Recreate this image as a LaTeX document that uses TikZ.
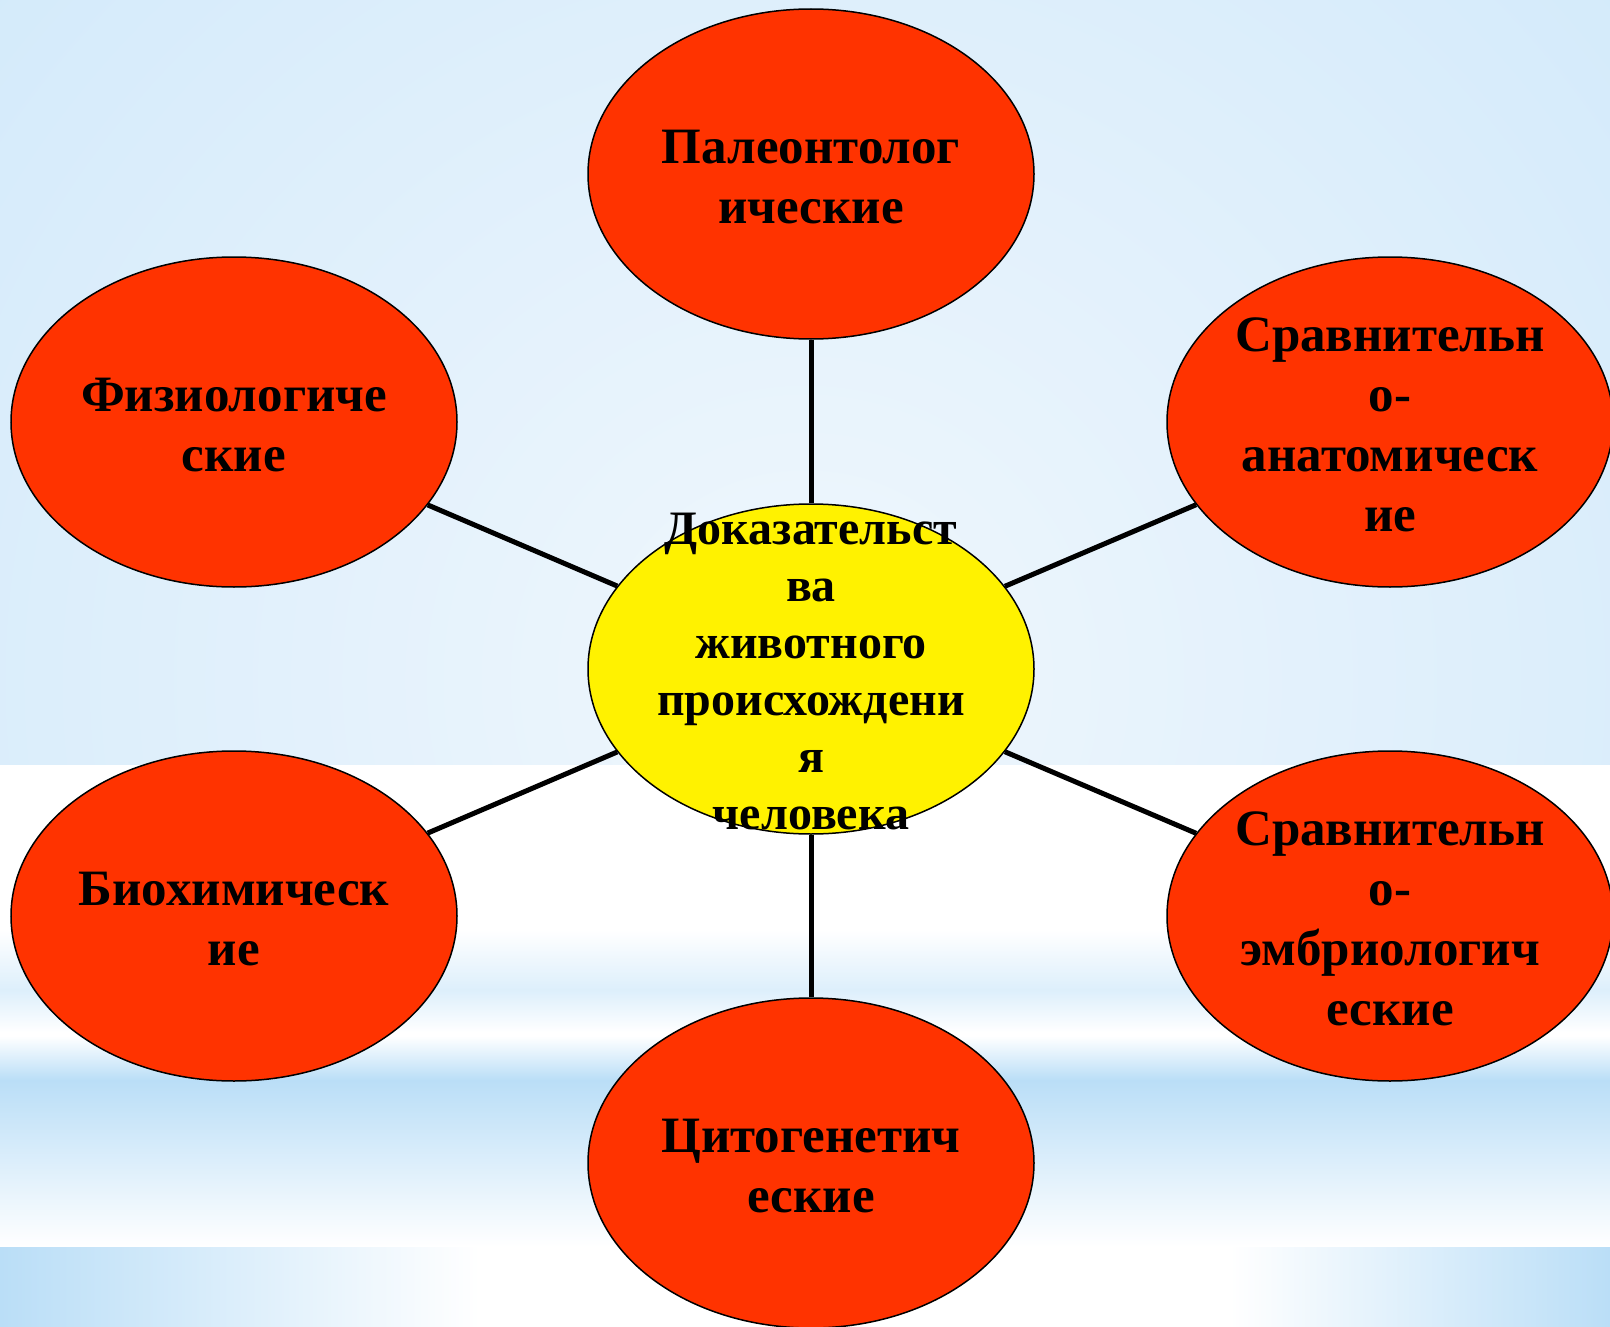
\documentclass[tikz,border=0pt]{standalone}
\usepackage{fontspec}
\setmainfont{Liberation Serif}
\usetikzlibrary{shapes.geometric}

\definecolor{evidred}{RGB}{255,51,0}
\definecolor{bgblue}{RGB}{198,228,249}
\definecolor{bglight}{RGB}{240,247,253}
\definecolor{bgstreak}{RGB}{186,222,247}

\begin{document}
\begin{tikzpicture}[x=1pt,y=-1pt]

\tikzset{evid/.style={ellipse,draw=black,line width=1.5pt,fill=evidred,minimum width=446pt,minimum height=330pt,inner sep=0pt}}
\tikzset{txt/.style={align=center,font=\fontsize{51}{60}\selectfont\bfseries,yshift=-3pt}}
\tikzset{link/.style={line width=5pt}}

\useasboundingbox (0,0) rectangle (1610,1327);

% background
\begin{scope}
\clip (0,0) rectangle (1610,765);
\shade[inner color=bglight,outer color=bgblue] (-795,-920) rectangle (2405,2280);
\end{scope}
\fill[white] (0,765) rectangle (1610,1247);
\shade[top color=white,bottom color=bgblue!60] (0,930) rectangle (1610,990);
\shade[top color=bgblue!60,bottom color=white] (0,990) rectangle (1610,1032);
\shade[top color=white,bottom color=bgstreak] (0,1036) rectangle (1610,1080);
\shade[top color=bgstreak,bottom color=white] (0,1080) rectangle (1610,1247);
\shade[left color=bgstreak,right color=white] (0,1247) rectangle (480,1327);
\shade[left color=white,right color=bgstreak] (1230,1247) rectangle (1610,1327);

% the ellipses
\node(pal)[evid] at (811,174){};
\node(fiz)[evid] at (234,422){};
\node(ana)[evid] at (1390,422){};
\node(dok)[evid,fill=yellow] at (811,669){};
\node(bio)[evid] at (234,916){};
\node(emb)[evid] at (1390,916){};
\node(cit)[evid] at (811,1163){};

\foreach \n in {pal,fiz,ana,bio,emb,cit}
{
\draw[link] (dok) -- (\n);
}

% texts
\node(paltxt)[txt] at (pal){Палеонтолог\\ические};
\node(fiztxt)[txt] at (fiz){Физиологиче\\ские};
\node(anatxt)[txt] at (ana){Сравнительн\\о-\\анатомическ\\ие};
\node(doktxt)[txt,font=\fontsize{48}{57}\selectfont\bfseries] at (dok){Доказательст\\ва\\животного\\происхождени\\я\\человека};
\node(biotxt)[txt] at (bio){Биохимическ\\ие};
\node(embtxt)[txt] at (emb){Сравнительн\\о-\\эмбриологич\\еские};
\node(cittxt)[txt] at (cit){Цитогенетич\\еские};

\end{tikzpicture}
\end{document}
